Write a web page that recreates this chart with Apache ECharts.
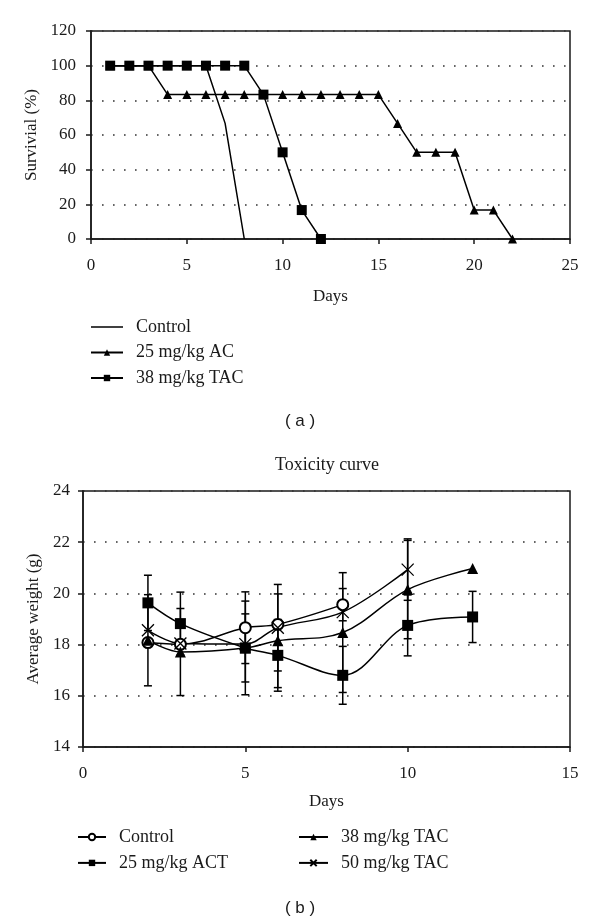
<!DOCTYPE html>
<html>
<head>
<meta charset="utf-8">
<script src="https://cdn.jsdelivr.net/npm/echarts@6/dist/echarts.min.js"></script>
<style>
html,body{margin:0;padding:0;background:#fff;}
#c{width:600px;height:924px;}
</style>
</head>
<body>
<div id="c"></div>
<script>
// ---- Panel (a): survival ----
const survDays = [1,2,3,4,5,6,7,8,9,10,11,12,13,14,15,16,17,18,19,20,21,22];
const survControl = [100,100,100,100,100,100,66.7,0];
const survAC = [100,100,100,83.3,83.3,83.3,83.3,83.3,83.3,83.3,83.3,83.3,83.3,83.3,83.3,66.7,50,50,50,16.7,16.7,0];
const survTAC = [100,100,100,100,100,100,100,100,83.3,50,16.7,0];
const survXTicks = [0,5,10,15,20,25];
const survYTicks = [0,20,40,60,80,100,120];

// ---- Panel (b): toxicity ----
const toxDays = [2,3,5,6,8,10,12];
const toxControl = [18.08,18.01,18.66,18.79,19.56];
const toxControlErr = [null,null,1.4,null,0.63];
const toxACT = [19.63,18.82,17.87,17.58,16.8,18.75,19.08];
const toxACTErr = [1.08,1.23,1.83,1.4,1.13,1.19,1.0];
const toxTAC38 = [18.17,17.71,17.87,18.15,18.47,20.15,20.97];
const toxTAC38Err = [1.78,1.7,1.33,1.83,2.34,1.92,null];
const toxTAC50 = [18.56,18.04,18.02,18.66,19.27,20.93];
const toxTAC50Err = [null,null,null,1.69,null,1.2];
const toxXTicks = [0,5,10,15];
const toxYTicks = [14,16,18,20,22,24];

const SERIF = 'Liberation Serif';
const INK = '#1a1a1a';

function pairs(xs, ys){ return ys.map((v,i)=>[xs[i], v]); }
function errPairs(xs, ys, es){
  const out=[];
  ys.forEach((v,i)=>{ if(es[i]!=null) out.push([xs[i], v, es[i]]); });
  return out;
}

const chart = echarts.init(document.getElementById('c'), null, {renderer:'canvas'});

function axisCommon(margin){
  return {
    axisLine:{show:true, onZero:false, lineStyle:{color:INK, width:1.5}},
    axisTick:{show:true, inside:false, length:5, lineStyle:{color:INK, width:1.5}},
    axisLabel:{color:INK, fontFamily:SERIF, fontSize:17, margin:margin},
    nameTextStyle:{color:INK, fontFamily:SERIF, fontSize:17},
  };
}
const dotted = {show:true, lineStyle:{color:'#333', width:1.6, type:[1.6,9.4]}};

const xPath = 'path://M0,0L10,10M10,0L0,10';
const plainLineIcon = 'path://M0,0L32,0L32,1.5L0,1.5Z';

function errRender(params, api){
  const x=api.value(0), y=api.value(1), e=api.value(2);
  const t=api.coord([x,y+e]), b=api.coord([x,y-e]);
  const w=4;
  const st={stroke:'#000', lineWidth:1.5};
  return {type:'group', children:[
    {type:'line', shape:{x1:t[0],y1:t[1],x2:b[0],y2:b[1]}, style:st},
    {type:'line', shape:{x1:t[0]-w,y1:t[1],x2:t[0]+w,y2:t[1]}, style:st},
    {type:'line', shape:{x1:b[0]-w,y1:b[1],x2:b[0]+w,y2:b[1]}, style:st}
  ]};
}

const lineBase = {type:'line', lineStyle:{color:'#000', width:1.5}, itemStyle:{color:'#000'}, emphasis:{disabled:true}, z:3};
const legendText = {color:INK, fontFamily:SERIF, fontSize:18, lineHeight:18, padding:[0,0,0,8]};

const option = {
  animation:false,
  backgroundColor:'#fff',
  grid:[
    {left:91, top:31, width:479, height:208, show:true, borderColor:INK, borderWidth:1.5, backgroundColor:'transparent'},
    {left:83, top:491, width:487, height:256, show:true, borderColor:INK, borderWidth:1.5, backgroundColor:'transparent'}
  ],
  xAxis:[
    Object.assign(axisCommon(18), {gridIndex:0, type:'value', min:survXTicks[0], max:survXTicks[survXTicks.length-1], interval:5,
      splitLine:{show:false}, name:'Days', nameLocation:'middle', nameGap:49}),
    Object.assign(axisCommon(18), {gridIndex:1, type:'value', min:toxXTicks[0], max:toxXTicks[toxXTicks.length-1], interval:5,
      splitLine:{show:false}, name:'Days', nameLocation:'middle', nameGap:46})
  ],
  yAxis:[
    Object.assign(axisCommon(15), {gridIndex:0, type:'value', min:survYTicks[0], max:survYTicks[survYTicks.length-1], interval:20,
      splitLine:dotted, name:'Survivial (%)', nameLocation:'middle', nameGap:49, nameRotate:90}),
    Object.assign(axisCommon(13), {gridIndex:1, type:'value', min:toxYTicks[0], max:toxYTicks[toxYTicks.length-1], interval:2,
      splitLine:dotted, name:'Average weight (g)', nameLocation:'middle', nameGap:41, nameRotate:90})
  ],
  legend:[
    {orient:'vertical', left:90, top:318, padding:0, itemWidth:32, itemHeight:8, itemGap:7.5,
     data:[{name:'Control', icon:plainLineIcon},'25 mg/kg AC','38 mg/kg TAC'], selectedMode:false,
     textStyle:legendText},
    {orient:'vertical', left:77, top:828, padding:0, itemWidth:28, itemHeight:8, itemGap:7.9,
     data:['Control (b)','25 mg/kg ACT'], selectedMode:false,
     formatter:n=>n.replace(' (b)',''), textStyle:legendText},
    {orient:'vertical', left:298, top:828, padding:0, itemWidth:29, itemHeight:8, itemGap:7.9,
     data:['38 mg/kg TAC (b)','50 mg/kg TAC'], selectedMode:false,
     formatter:n=>n.replace(' (b)',''), textStyle:legendText}
  ],
  graphic:[
    {type:'text', left:'center', top:413, style:{text:'( a )', font:'17px "Liberation Sans"', fill:INK}},
    {type:'text', left:'center', top:900, style:{text:'( b )', font:'17px "Liberation Sans"', fill:INK}},
    {type:'text', x:327, y:465, style:{text:'Toxicity curve', font:'18px "Liberation Serif"', fill:INK, textAlign:'center', textVerticalAlign:'middle'}}
  ],
  series:[
    Object.assign({}, lineBase, {name:'Control', xAxisIndex:0, yAxisIndex:0, data:pairs(survDays, survControl), symbol:'none'}),
    Object.assign({}, lineBase, {name:'25 mg/kg AC', xAxisIndex:0, yAxisIndex:0, data:pairs(survDays, survAC), symbol:'triangle', symbolSize:9}),
    Object.assign({}, lineBase, {name:'38 mg/kg TAC', xAxisIndex:0, yAxisIndex:0, data:pairs(survDays, survTAC), symbol:'rect', symbolSize:10}),

    {type:'custom', xAxisIndex:1, yAxisIndex:1, renderItem:errRender, z:2, silent:true,
     data:[].concat(errPairs(toxDays,toxControl,toxControlErr), errPairs(toxDays,toxACT,toxACTErr), errPairs(toxDays,toxTAC38,toxTAC38Err), errPairs(toxDays,toxTAC50,toxTAC50Err))},

    Object.assign({}, lineBase, {name:'Control (b)', xAxisIndex:1, yAxisIndex:1, smooth:0.35, data:pairs(toxDays, toxControl),
      symbol:'emptyCircle', symbolSize:11, itemStyle:{color:'#000', borderColor:'#000', borderWidth:1.3}}),
    Object.assign({}, lineBase, {name:'25 mg/kg ACT', xAxisIndex:1, yAxisIndex:1, smooth:0.35, data:pairs(toxDays, toxACT),
      symbol:'rect', symbolSize:11}),
    Object.assign({}, lineBase, {name:'38 mg/kg TAC (b)', xAxisIndex:1, yAxisIndex:1, smooth:0.35, data:pairs(toxDays, toxTAC38),
      symbol:'triangle', symbolSize:11}),
    Object.assign({}, lineBase, {name:'50 mg/kg TAC', xAxisIndex:1, yAxisIndex:1, smooth:0.35, data:pairs(toxDays, toxTAC50),
      symbol:xPath, symbolSize:12, itemStyle:{color:'#000', borderColor:'#000', borderWidth:1.3}})
  ]
};
chart.setOption(option);
</script>
</body>
</html>
